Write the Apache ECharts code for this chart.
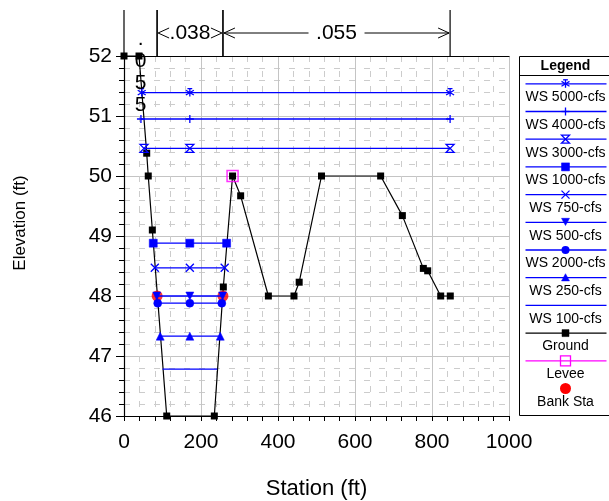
<!DOCTYPE html>
<html><head><meta charset="utf-8">
<script src="https://cdn.jsdelivr.net/npm/echarts@6/dist/echarts.min.js"></script>
<style>html,body{margin:0;padding:0;background:#fff}#c{width:609px;height:501px}</style>
</head><body><div id="c"></div>
<script>
// ---- data ----
const groundStation = [0, 39, 59, 63, 73.6, 111, 234.6, 258, 282, 303, 375, 441.5, 455, 513, 666.6, 723, 777.5, 788.8, 822.6, 847.5];
const groundElev    = [52, 52, 50.38, 50, 49.1, 46, 46, 48.15, 50, 49.67, 48, 48, 48.23, 50, 50, 49.34, 48.46, 48.42, 48, 48];
const wsNames = ['WS 5000-cfs','WS 4000-cfs','WS 3000-cfs','WS 1000-cfs','WS 750-cfs','WS 500-cfs','WS 2000-cfs','WS 250-cfs','WS 100-cfs'];
const wsElev  = [51.39, 50.95, 50.46, 48.88, 48.47, 48.0, 47.88, 47.33, 46.78];
const wsLeft  = [46, 44, 52, 76, 80, 85, 87.5, 94, 100];
const wsMid   = [171, 171, 171, 171, 171, 171, 171, 171, 171];
const wsRight = [847, 847, 847, 266.5, 261.5, 256, 254, 250, 242];
const leveeStation = [282];
const leveeElev    = [50];
const bankStation  = [86, 257];
const bankElev     = [48, 48];
const nStations = [0, 86, 257, 847];
const nValues   = ['.055', '.038', '.055'];
const legendTitle = 'Legend';
const groundName = 'Ground', leveeName = 'Levee', bankName = 'Bank Sta';

// ---- styles ----
const FONT = '"Liberation Sans", Arial, Helvetica, sans-serif';
const BLUE = '#0000ff';
// marker shapes: list of sub-paths in a 10x10 box
const SQ = [{p:[[0,0],[10,0],[10,10],[0,10]], c:true}];
const wsMarkers = [
  {parts:[{p:[[5,0],[5,10]]},{p:[[0,2],[10,8]]},{p:[[10,2],[0,8]]},{p:[[2,0],[8,0]]}], fill:false},
  {parts:[{p:[[5,0],[5,10]]},{p:[[0,5],[10,5]]}], fill:false},
  {parts:[{p:[[0,0],[10,0],[0,10],[10,10]], c:true}], fill:false},
  {parts:SQ, fill:true},
  {parts:[{p:[[0,0],[10,10]]},{p:[[10,0],[0,10]]}], fill:false},
  {parts:[{p:[[0,0],[10,0],[5,9]], c:true}], fill:true},
  {circle:true, fill:true},
  {parts:[{p:[[5,0],[10,9],[0,9]], c:true}], fill:true},
  null
];
function toPath(parts){
  return 'path://' + parts.map(s => 'M' + s.p.map(q => q[0]+','+q[1]).join('L') + (s.c ? 'Z' : '')).join('');
}

const series = [];
series.push({
  type:'line', name:groundName, z:3, clip:false,
  data: groundStation.map((s,i)=>[s, groundElev[i]]),
  symbol:'rect', symbolSize:7, showAllSymbol:true,
  itemStyle:{color:'#000'}, lineStyle:{color:'#000', width:1.2}
});
series.push({
  type:'scatter', name:bankName, z:4, clip:false,
  data: bankStation.map((s,i)=>[s, bankElev[i]]),
  symbol:'circle', symbolSize:11, itemStyle:{color:'#ff0000'}
});
series.push({
  type:'scatter', name:leveeName, z:5, clip:false,
  data: leveeStation.map((s,i)=>[s, leveeElev[i]]),
  symbol:'rect', symbolSize:11,
  itemStyle:{color:'rgba(0,0,0,0)', borderColor:'#ff00ff', borderWidth:1.5}
});
wsNames.forEach((n,i)=>{
  const m = wsMarkers[i];
  series.push({
    type:'line', name:n, z:6, clip:false,
    data:[[wsLeft[i], wsElev[i]],[wsMid[i], wsElev[i]],[wsRight[i], wsElev[i]]],
    symbol: m ? (m.circle ? 'circle' : toPath(m.parts)) : 'none',
    symbolSize: 8, showAllSymbol:true,
    itemStyle: m ? {color: m.fill ? BLUE : 'rgba(0,0,0,0)', borderColor:BLUE, borderWidth: m.fill ? 0.5 : 1.3} : {color:BLUE},
    lineStyle:{color:BLUE, width:1.3}
  });
});
// n-value band above plot
series.push({
  type:'custom', name:'n', clip:false, z:10, silent:true,
  coordinateSystem:'cartesian2d',
  data: nValues.map((v,i)=>[nStations[i], 52, nStations[i+1], i]),
  encode:{x:[0,2], y:1},
  renderItem:function(params, api){
    const p0 = api.coord([api.value(0), api.value(1)]);
    const p1 = api.coord([api.value(2), api.value(1)]);
    const x0 = p0[0], x1 = p1[0], top = p0[1];
    const label = nValues[api.value(3)];
    const ls = {stroke:'#000', lineWidth:1.2};
    const ch = [
      {type:'line', shape:{x1:x0, y1:top-46, x2:x0, y2:top}, style:ls},
      {type:'line', shape:{x1:x1, y1:top-46, x2:x1, y2:top}, style:ls}
    ];
    const cx = (x0+x1)/2;
    if (x1 - x0 < 50) {
      ch.push({type:'text', style:{text:label.split('').join('\n'), x:cx, y:top-28,
        align:'center', verticalAlign:'top', font:'21px '+FONT, lineHeight:22, fill:'#000'}});
    } else {
      const y = top - 23;
      const tw = 44;
      ch.push({type:'text', style:{text:label, x:cx, y:y, align:'center', verticalAlign:'middle', font:'21px '+FONT, fill:'#000'}});
      const as = {stroke:'#000', lineWidth:1, fill:null};
      ch.push({type:'polyline', shape:{points:[[x0+12,y-5],[x0+1,y],[x0+12,y+5]]}, style:as});
      ch.push({type:'polyline', shape:{points:[[x1-12,y-5],[x1-1,y],[x1-12,y+5]]}, style:as});
      const l1 = cx - tw/2 - 6;
      if (l1 - x0 > 14) {
        ch.push({type:'line', shape:{x1:x0+1, y1:y, x2:l1, y2:y}, style:as});
        ch.push({type:'line', shape:{x1:cx+tw/2+6, y1:y, x2:x1-1, y2:y}, style:as});
      }
    }
    return {type:'group', children:ch};
  }
});

// ---- legend (drawn) ----
const lgX = 517, lgY = 56;
const legendEntries = wsNames.map((n,i)=>({name:n, color:BLUE, marker:wsMarkers[i], line:true}))
  .concat([
    {name:groundName, color:'#000', marker:{parts:SQ, fill:true}, line:true, size:7},
    {name:leveeName, color:'#ff00ff', marker:{parts:SQ, fill:false}, line:true, size:10},
    {name:bankName, color:'#ff0000', marker:{circle:true, fill:true}, line:false, size:11}
  ]);
const lg = [];
lg.push({type:'rect', shape:{x:0, y:0, width:110, height:359}, style:{fill:'#fff', stroke:'#000', lineWidth:1}});
lg.push({type:'text', x:46, y:10, style:{text:legendTitle, align:'center', verticalAlign:'middle', font:'bold 14px '+FONT, fill:'#000'}});
lg.push({type:'line', shape:{x1:0, y1:19, x2:110, y2:19}, style:{stroke:'#000', lineWidth:1}});
legendEntries.forEach((e,i)=>{
  const y = 27.3 + 27.7*i;
  if (e.line) lg.push({type:'line', shape:{x1:6, y1:y, x2:87, y2:y}, style:{stroke:e.color, lineWidth:1.3}});
  const s = e.size || 8;
  const m = e.marker;
  if (m) {
    if (m.circle) lg.push({type:'circle', shape:{cx:46, cy:y, r:s/2}, style:{fill:e.color}});
    else m.parts.forEach(part=>{
      const pts = part.p.map(q=>[46 - s/2 + q[0]*s/10, y - s/2 + q[1]*s/10]);
      if (part.c) lg.push({type:'polygon', shape:{points:pts},
        style:{fill: m.fill ? e.color : (e.name===leveeName ? 'rgba(0,0,0,0)' : null), stroke:e.color, lineWidth: m.fill?0.5:1.3}});
      else lg.push({type:'polyline', shape:{points:pts}, style:{fill:null, stroke:e.color, lineWidth:1.3}});
    });
  }
  lg.push({type:'text', x:46, y:y+13.5, style:{text:e.name, align:'center', verticalAlign:'middle', font:'14px '+FONT, fill:'#000'}});
});

const chart = echarts.init(document.getElementById('c'));
chart.setOption({
  animation:false,
  backgroundColor:'#fff',
  grid:{left:124, right:100, top:56, bottom:85, containLabel:false, outerBoundsMode:'none'},
  xAxis:[{
    type:'value', min:0, max:1000, interval:200,
    name:'Station (ft)', nameLocation:'middle', nameGap:62,
    nameTextStyle:{fontSize:22, fontFamily:FONT, color:'#000'},
    axisLine:{lineStyle:{color:'#000', width:1.2}},
    axisTick:{length:5, lineStyle:{color:'#000'}},
    minorTick:{show:true, splitNumber:5, length:5, lineStyle:{color:'#000'}},
    axisLabel:{fontSize:21, fontFamily:FONT, color:'#000', margin:16, formatter:v=>String(v)},
    splitLine:{show:true, lineStyle:{color:'#c4c4c4', width:1}},
    minorSplitLine:{show:true, lineStyle:{color:'#cccccc', type:[6,9], width:1}}
  },{
    type:'value', min:0, max:1000, position:'top',
    axisLine:{show:true, lineStyle:{color:'#000', width:1.2}},
    axisTick:{show:false}, axisLabel:{show:false}, splitLine:{show:false}
  }],
  yAxis:{
    type:'value', min:46, max:52, interval:1,
    name:'Elevation (ft)', nameLocation:'middle', nameGap:95,
    nameTextStyle:{fontSize:17, fontFamily:FONT, color:'#000', padding:[0,0,0,26]},
    axisLine:{show:true, lineStyle:{color:'#000', width:1.2}},
    axisTick:{length:8, lineStyle:{color:'#000'}},
    minorTick:{show:true, splitNumber:5, length:5, lineStyle:{color:'#000'}},
    axisLabel:{fontSize:21, fontFamily:FONT, color:'#000', margin:12},
    splitLine:{show:true, lineStyle:{color:'#c4c4c4', width:1}},
    minorSplitLine:{show:true, lineStyle:{color:'#cccccc', type:[6,9], width:1}}
  },
  series: series,
  graphic:[{type:'group', left:lgX, top:lgY, children:lg}]
});
</script></body></html>
